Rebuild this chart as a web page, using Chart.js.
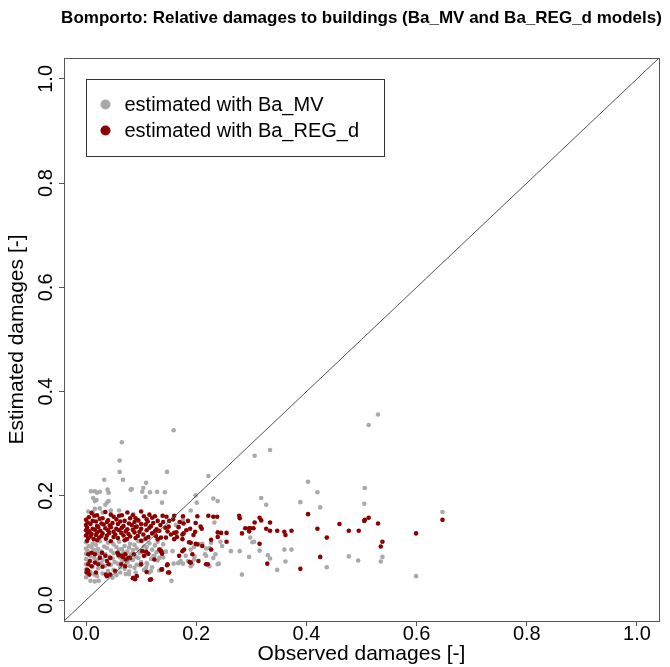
<!DOCTYPE html>
<html>
<head>
<meta charset="utf-8">
<script src="https://cdn.jsdelivr.net/npm/chart.js@4.4.1/dist/chart.umd.min.js"></script>
<style>
  html, body { margin: 0; padding: 0; background: #fff; }
  #chart { display: block; }
</style>
</head>
<body>
<canvas id="chart" width="670" height="667"></canvas>
<script>
// titles and labels
const TITLE = 'Bomporto: Relative damages to buildings (Ba_MV and Ba_REG_d models)';
const X_TITLE = 'Observed damages [-]';
const Y_TITLE = 'Estimated damages [-]';
const SERIES_LABELS = ['estimated with Ba_MV', 'estimated with Ba_REG_d'];

// axes (R style: range extended 4% each side)
const AXIS_MIN = -0.04;
const AXIS_MAX = 1.04;
const X_TICKS = [0, 0.2, 0.4, 0.6, 0.8, 1.0];
const Y_TICKS = [0, 0.2, 0.4, 0.6, 0.8, 1.0];

// [observed, estimated] - Ba_MV model (grey)
const MV_POINTS = [
  // upper scatter
  [0.159, 0.326], [0.065, 0.303], [0.061, 0.268], [0.061, 0.246], [0.147, 0.246],
  [0.033, 0.231], [0.067, 0.231], [0.222, 0.238], [0.306, 0.277], [0.334, 0.288],
  [0.109, 0.225], [0.104, 0.215], [0.081, 0.212], [0.083, 0.213], [0.009, 0.209],
  [0.016, 0.209], [0.020, 0.206], [0.025, 0.208], [0.039, 0.212], [0.041, 0.206],
  [0.102, 0.208], [0.116, 0.207], [0.129, 0.208], [0.143, 0.207], [0.108, 0.198],
  [0.013, 0.196], [0.019, 0.192], [0.041, 0.190], [0.035, 0.183], [0.038, 0.187],
  [0.016, 0.190], [0.138, 0.187], [0.199, 0.201], [0.201, 0.187], [0.231, 0.195],
  [0.239, 0.190], [0.318, 0.196], [0.327, 0.183], [0.389, 0.188], [0.403, 0.227],
  [0.420, 0.207], [0.425, 0.178], [0.506, 0.215], [0.505, 0.185], [0.530, 0.356],
  [0.513, 0.336], [0.647, 0.169], [0.016, 0.175], [0.025, 0.176], [0.045, 0.172],
  [0.060, 0.172], [0.190, 0.172], [0.176, 0.154], [0.086, 0.165], [0.004, 0.170],
  [0.012, 0.169], [0.030, 0.168], [0.175, 0.149], [0.163, 0.144], [0.233, 0.149],
  // right, low
  [0.283, 0.049], [0.296, 0.083], [0.347, 0.058], [0.362, 0.074], [0.373, 0.097],
  [0.360, 0.097], [0.330, 0.086], [0.334, 0.080], [0.315, 0.095], [0.279, 0.094],
  [0.302, 0.111], [0.298, 0.120], [0.305, 0.112], [0.437, 0.063], [0.477, 0.084],
  [0.494, 0.076], [0.538, 0.083], [0.535, 0.074], [0.599, 0.046], [0.263, 0.094],
  // middle, low
  [0.155, 0.037], [0.159, 0.070], [0.167, 0.071], [0.176, 0.070], [0.185, 0.075],
  [0.181, 0.085], [0.190, 0.097], [0.196, 0.102], [0.205, 0.107], [0.211, 0.108],
  [0.216, 0.088], [0.231, 0.081], [0.235, 0.088], [0.241, 0.070], [0.244, 0.112],
  [0.247, 0.104], [0.197, 0.084], [0.190, 0.065], [0.172, 0.075], [0.157, 0.094],
  [0.169, 0.072], [0.196, 0.078], [0.193, 0.069], [0.218, 0.085], [0.224, 0.065],
  [0.239, 0.069], [0.208, 0.107], [0.224, 0.100], [0.227, 0.110], [0.218, 0.099],
  // dense cluster near origin
  [0.000, 0.111], [0.012, 0.108], [0.025, 0.113], [0.040, 0.110], [0.060, 0.112],
  [0.080, 0.108], [0.095, 0.113], [0.115, 0.109], [0.130, 0.112],
  [0.005, 0.104], [0.018, 0.106], [0.033, 0.103], [0.050, 0.107], [0.070, 0.104],
  [0.088, 0.106], [0.105, 0.103], [0.125, 0.105], [0.140, 0.107],
  [0.000, 0.099], [0.010, 0.101], [0.022, 0.098], [0.038, 0.100], [0.055, 0.102],
  [0.065, 0.098], [0.078, 0.101], [0.092, 0.099], [0.110, 0.102], [0.135, 0.098],
  [0.003, 0.094], [0.015, 0.096], [0.028, 0.093], [0.045, 0.095], [0.060, 0.097],
  [0.075, 0.093], [0.085, 0.096], [0.100, 0.094], [0.120, 0.097], [0.145, 0.093],
  [0.000, 0.089], [0.020, 0.091], [0.035, 0.088], [0.050, 0.090], [0.068, 0.092],
  [0.082, 0.088], [0.097, 0.091], [0.113, 0.089], [0.128, 0.092],
  [0.008, 0.084], [0.025, 0.086], [0.042, 0.083], [0.058, 0.085], [0.072, 0.087],
  [0.090, 0.083], [0.108, 0.086], [0.122, 0.084],
  [0.000, 0.079], [0.015, 0.081], [0.030, 0.078], [0.048, 0.080], [0.062, 0.082],
  [0.078, 0.078], [0.095, 0.081], [0.118, 0.079], [0.140, 0.082],
  [0.005, 0.074], [0.020, 0.076], [0.052, 0.073], [0.066, 0.075], [0.085, 0.077],
  [0.100, 0.073], [0.130, 0.076],
  [0.000, 0.069], [0.028, 0.071], [0.045, 0.068], [0.058, 0.070], [0.075, 0.072],
  [0.092, 0.068], [0.110, 0.071],
  [0.012, 0.064], [0.035, 0.066], [0.062, 0.063], [0.080, 0.065], [0.098, 0.067],
  [0.120, 0.063],
  [0.000, 0.059], [0.022, 0.061], [0.050, 0.058], [0.070, 0.060], [0.088, 0.062],
  [0.105, 0.058],
  [0.008, 0.054], [0.040, 0.056], [0.062, 0.053], [0.078, 0.055],
  [0.015, 0.049], [0.030, 0.051], [0.055, 0.048], [0.072, 0.050],
  [0.000, 0.044], [0.020, 0.046], [0.048, 0.043],
  [0.008, 0.037], [0.016, 0.036], [0.023, 0.037],
  [0.102, 0.113], [0.099, 0.069], [0.111, 0.069], [0.115, 0.053], [0.118, 0.056],
  [0.133, 0.081], [0.124, 0.085], [0.133, 0.057], [0.090, 0.053], [0.078, 0.050],
  [0.109, 0.062]
];

// [observed, estimated] - Ba_REG_d model (dark red)
const REG_POINTS = [
  // main band
  [0.010, 0.167], [0.020, 0.163], [0.035, 0.169], [0.045, 0.164], [0.060, 0.162],
  [0.075, 0.168], [0.085, 0.163], [0.100, 0.170], [0.115, 0.164], [0.125, 0.161],
  [0.005, 0.159], [0.015, 0.162], [0.030, 0.157], [0.050, 0.160], [0.065, 0.163],
  [0.090, 0.157], [0.105, 0.161], [0.120, 0.158],
  [0.000, 0.154], [0.012, 0.152], [0.025, 0.156], [0.040, 0.153], [0.055, 0.155],
  [0.070, 0.152], [0.080, 0.157], [0.095, 0.153], [0.110, 0.155], [0.130, 0.152],
  [0.003, 0.149], [0.018, 0.151], [0.028, 0.147], [0.038, 0.150], [0.048, 0.148],
  [0.062, 0.151], [0.078, 0.147], [0.088, 0.150], [0.100, 0.146], [0.112, 0.151],
  [0.122, 0.148],
  [0.000, 0.144], [0.008, 0.146], [0.020, 0.142], [0.032, 0.145], [0.043, 0.143],
  [0.058, 0.146], [0.068, 0.142], [0.083, 0.144], [0.092, 0.141], [0.108, 0.145],
  [0.118, 0.142], [0.135, 0.144],
  [0.002, 0.139], [0.012, 0.137], [0.022, 0.140], [0.035, 0.138], [0.045, 0.140],
  [0.055, 0.137], [0.065, 0.139], [0.075, 0.136], [0.090, 0.140], [0.100, 0.137],
  [0.115, 0.139], [0.128, 0.136],
  [0.000, 0.134], [0.006, 0.132], [0.016, 0.135], [0.026, 0.133], [0.040, 0.134],
  [0.050, 0.131], [0.060, 0.134], [0.072, 0.132], [0.085, 0.135], [0.097, 0.131],
  [0.110, 0.134], [0.125, 0.132],
  [0.003, 0.129], [0.010, 0.127], [0.020, 0.130], [0.030, 0.128], [0.042, 0.129],
  [0.053, 0.126], [0.064, 0.129], [0.077, 0.127], [0.088, 0.130], [0.104, 0.126],
  [0.120, 0.128],
  [0.000, 0.124], [0.008, 0.122], [0.018, 0.125], [0.028, 0.123], [0.038, 0.124],
  [0.050, 0.121], [0.068, 0.124], [0.080, 0.122], [0.094, 0.123], [0.113, 0.121],
  [0.004, 0.119], [0.014, 0.117], [0.024, 0.120], [0.036, 0.118], [0.058, 0.119],
  [0.074, 0.117], [0.090, 0.119], [0.108, 0.118],
  [0.002, 0.114], [0.020, 0.115], [0.045, 0.113], [0.070, 0.115], [0.100, 0.114],
  // band, thinning out to the right
  [0.139, 0.162], [0.146, 0.160], [0.151, 0.152], [0.144, 0.139], [0.133, 0.133],
  [0.127, 0.123], [0.130, 0.117], [0.136, 0.120], [0.145, 0.120], [0.154, 0.126],
  [0.160, 0.129], [0.175, 0.126], [0.160, 0.162], [0.164, 0.130], [0.160, 0.117],
  [0.176, 0.161], [0.177, 0.147], [0.177, 0.128], [0.175, 0.117], [0.178, 0.097],
  [0.189, 0.137], [0.187, 0.111], [0.199, 0.108], [0.193, 0.088], [0.188, 0.073],
  [0.204, 0.075], [0.190, 0.110], [0.202, 0.107], [0.211, 0.104], [0.227, 0.097],
  [0.227, 0.116], [0.175, 0.094], [0.190, 0.072], [0.169, 0.085], [0.202, 0.161],
  [0.199, 0.148], [0.208, 0.141], [0.210, 0.137], [0.198, 0.131], [0.222, 0.162],
  [0.140, 0.150], [0.150, 0.141], [0.158, 0.155], [0.168, 0.140], [0.185, 0.152],
  [0.195, 0.125], [0.182, 0.134], [0.165, 0.121], [0.148, 0.132], [0.170, 0.150],
  [0.231, 0.160], [0.238, 0.160], [0.239, 0.130], [0.239, 0.121], [0.218, 0.069],
  [0.221, 0.069], [0.245, 0.129], [0.255, 0.129], [0.255, 0.112], [0.278, 0.162],
  [0.279, 0.157], [0.283, 0.128], [0.289, 0.138], [0.296, 0.138], [0.296, 0.132],
  [0.299, 0.138], [0.304, 0.138], [0.306, 0.149], [0.315, 0.158], [0.318, 0.153],
  [0.334, 0.149], [0.327, 0.137], [0.334, 0.133], [0.347, 0.133], [0.360, 0.131],
  [0.362, 0.125], [0.373, 0.133], [0.315, 0.108], [0.329, 0.070], [0.389, 0.060],
  [0.403, 0.165], [0.420, 0.137], [0.425, 0.083], [0.437, 0.120], [0.460, 0.146],
  [0.477, 0.133], [0.495, 0.133], [0.505, 0.152], [0.506, 0.154], [0.513, 0.158],
  [0.530, 0.147], [0.535, 0.103], [0.538, 0.112], [0.599, 0.128], [0.647, 0.154],
  // lower group
  [0.004, 0.088], [0.010, 0.091], [0.016, 0.088], [0.007, 0.075], [0.004, 0.069],
  [0.010, 0.065], [0.016, 0.072], [0.022, 0.069], [0.025, 0.081], [0.035, 0.085],
  [0.038, 0.075], [0.041, 0.069], [0.044, 0.081], [0.029, 0.091], [0.059, 0.088],
  [0.065, 0.085], [0.071, 0.088], [0.077, 0.081], [0.071, 0.065], [0.053, 0.056],
  [0.044, 0.049], [0.038, 0.046], [0.004, 0.056], [0.001, 0.053], [0.086, 0.043],
  [0.089, 0.040], [0.002, 0.058], [0.006, 0.049], [0.018, 0.053], [0.036, 0.049],
  [0.030, 0.064], [0.064, 0.069], [0.087, 0.088], [0.085, 0.042], [0.092, 0.046],
  [0.116, 0.039], [0.110, 0.054], [0.109, 0.093], [0.113, 0.089], [0.137, 0.093],
  [0.138, 0.089], [0.137, 0.059], [0.147, 0.067], [0.149, 0.053], [0.100, 0.069],
  [0.080, 0.081], [0.072, 0.078], [0.067, 0.083], [0.057, 0.091], [0.060, 0.086],
  [0.136, 0.094], [0.133, 0.097], [0.124, 0.078], [0.105, 0.085], [0.102, 0.094],
  [0.148, 0.069], [0.138, 0.059], [0.151, 0.053], [0.118, 0.040]
];

const toXY = pts => pts.map(p => ({ x: p[0], y: p[1] }));
const FONT = '"Liberation Sans", Arial, Helvetica, sans-serif';

// title (centred on the plot, allowed to run past it like R's main title),
// frame box and legend inside the plot
const frameAndLegend = {
  id: 'frameAndLegend',
  afterDraw(chart) {
    const { ctx, chartArea: a } = chart;
    ctx.save();
    ctx.fillStyle = '#000';
    ctx.font = 'bold 17px ' + FONT;
    ctx.textAlign = 'center';
    ctx.textBaseline = 'alphabetic';
    ctx.fillText(TITLE, (a.left + a.right) / 2, 23);
    ctx.restore();
  },
  afterDatasetsDraw(chart) {
    const { ctx, chartArea: a } = chart;
    ctx.save();
    ctx.strokeStyle = '#555';
    ctx.lineWidth = 1;
    ctx.strokeRect(Math.round(a.left) + 0.5, Math.round(a.top) + 0.5,
      Math.round(a.right - a.left), Math.round(a.bottom - a.top));

    // legend
    const lx = a.left + 22.5, ly = a.top + 21.5;
    ctx.fillStyle = '#fff';
    ctx.fillRect(lx, ly, 298, 77);
    ctx.strokeStyle = '#333';
    ctx.strokeRect(lx, ly, 298, 77);
    ctx.font = '20px ' + FONT;
    ctx.textBaseline = 'middle';
    ctx.textAlign = 'left';
    chart.data.datasets.slice(0, 2).forEach((ds, i) => {
      const cy = ly + 25 + i * 26;
      ctx.fillStyle = ds.backgroundColor;
      ctx.beginPath();
      ctx.arc(lx + 19, cy, 5, 0, Math.PI * 2);
      ctx.fill();
      ctx.fillStyle = '#000';
      ctx.fillText(ds.label, lx + 38, cy + 1);
    });
    ctx.restore();
  }
};

const ctx = document.getElementById('chart').getContext('2d');
new Chart(ctx, {
  type: 'scatter',
  data: {
    datasets: [
      {
        label: SERIES_LABELS[0],
        data: toXY(MV_POINTS),
        backgroundColor: '#a9a9a9',
        pointRadius: 2.3,
        borderWidth: 0,
        order: 3
      },
      {
        label: SERIES_LABELS[1],
        data: toXY(REG_POINTS),
        backgroundColor: '#8b0000',
        pointRadius: 2.3,
        borderWidth: 0,
        order: 2
      },
      {
        // 1:1 line across the whole plot
        type: 'line',
        label: 'y = x',
        data: [AXIS_MIN, AXIS_MAX].map(v => ({ x: v, y: v })),
        borderColor: '#555',
        borderWidth: 1,
        pointRadius: 0,
        fill: false,
        order: 1
      }
    ]
  },
  options: {
    responsive: false,
    animation: false,
    devicePixelRatio: 1,
    layout: { padding: { top: 58, right: 11, bottom: 0, left: 0 } },
    plugins: {
      legend: { display: false },
      tooltip: { enabled: false },
      title: { display: false }
    },
    scales: {
      x: {
        type: 'linear',
        min: AXIS_MIN,
        max: AXIS_MAX,
        afterBuildTicks: s => { s.ticks = X_TICKS.map(v => ({ value: v })); },
        afterFit: s => { s.height = 46; },
        border: { display: false },
        grid: { drawOnChartArea: false, drawTicks: true, tickLength: 5, color: '#555' },
        ticks: {
          color: '#000',
          font: { family: FONT, size: 20 },
          padding: -4,
          maxRotation: 0,
          autoSkip: false,
          callback: v => Number(v).toFixed(1)
        },
        title: {
          display: true,
          text: X_TITLE,
          color: '#000',
          font: { family: FONT, size: 21 },
          padding: { top: 0, bottom: 0 }
        }
      },
      y: {
        type: 'linear',
        min: AXIS_MIN,
        max: AXIS_MAX,
        afterBuildTicks: s => { s.ticks = Y_TICKS.map(v => ({ value: v })); },
        afterFit: s => { s.width = 64; },
        border: { display: false },
        grid: { drawOnChartArea: false, drawTicks: true, tickLength: 5, color: '#555' },
        ticks: {
          color: '#000',
          font: { family: FONT, size: 20 },
          padding: -1,
          minRotation: 90,
          maxRotation: 90,
          crossAlign: 'center',
          autoSkip: false,
          callback: v => Number(v).toFixed(1)
        },
        title: {
          display: true,
          text: Y_TITLE,
          color: '#000',
          font: { family: FONT, size: 21 },
          padding: { top: 5, bottom: 0 }
        }
      }
    }
  },
  plugins: [frameAndLegend]
});
</script>
</body>
</html>
